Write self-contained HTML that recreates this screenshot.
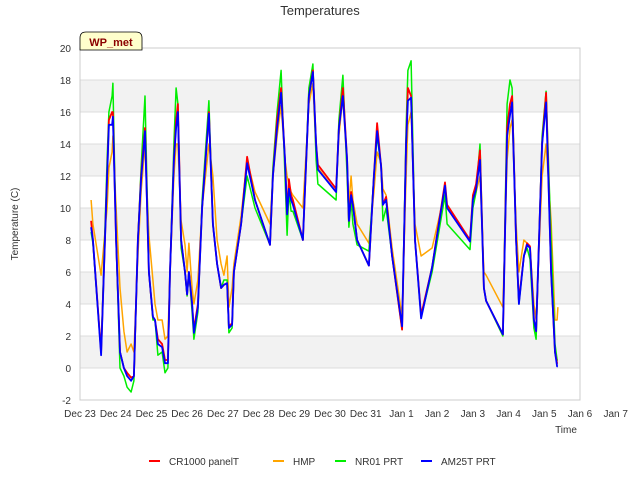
<!DOCTYPE html>
<html><head><meta charset="utf-8"><style>
body{margin:0;background:#fff;font-family:"Liberation Sans",sans-serif}
svg text{font-family:"Liberation Sans",sans-serif}
</style></head><body>
<svg id="c" width="640" height="480" xmlns="http://www.w3.org/2000/svg">
<text x="320" y="15" text-anchor="middle" font-size="13" fill="#333">Temperatures</text>
<text transform="translate(18,224) rotate(-90)" text-anchor="middle" font-size="10" fill="#333">Temperature (C)</text>
<text x="566" y="433" text-anchor="middle" font-size="10" fill="#333">Time</text>
<g id="bands"></g><g id="grid"></g><g id="ticks"></g><g id="series"></g>
<rect x="80" y="48" width="500" height="352" fill="none" stroke="#ccc"/>
<g>
<path d="M80,50 L80,38 Q80,32 86,32 L136,32 Q142,32 142,38 L142,50 Z" fill="#ffffcc" stroke="#000" stroke-width="0.8"/>
<text x="111" y="46" text-anchor="middle" font-size="11" font-weight="bold" fill="#8b0000">WP_met</text></g>
<g id="legend"></g>
</svg>
<script>
const times=[0.31,0.36,0.59,0.76,0.81,0.90,0.92,1.01,1.12,1.23,1.32,1.43,1.51,1.62,1.71,1.82,1.93,2.04,2.10,2.18,2.30,2.38,2.46,2.52,2.63,2.69,2.74,2.83,2.94,3.00,3.05,3.14,3.19,3.30,3.42,3.61,3.72,3.84,3.95,4.03,4.12,4.17,4.26,4.31,4.51,4.68,4.90,5.32,5.40,5.52,5.63,5.74,5.80,5.85,5.91,5.96,6.24,6.41,6.52,6.61,6.66,7.17,7.25,7.36,7.48,7.53,7.59,7.64,7.76,8.09,8.23,8.32,8.43,8.48,8.57,8.74,9.02,9.13,9.18,9.27,9.38,9.55,9.86,10.22,10.28,10.92,11.00,11.09,11.20,11.31,11.37,11.84,11.96,12.04,12.10,12.21,12.29,12.43,12.52,12.60,12.71,12.77,12.94,13.05,13.19,13.30,13.36,13.38];
const am25t=[8.8,8,0.8,12,15.2,15.2,15.7,8,1,0,-0.5,-0.8,-0.5,8,11.8,14.8,6,3.2,3,1.5,1.3,0.3,0.3,6,13,15,16,8,6,4.6,6,4,2.2,3.8,10,15.9,9,6.5,5,5.2,5.3,2.5,2.7,6,9,12.8,10.5,7.7,12,15,17.2,13,9.6,11.2,10.5,10.2,8,17,18.5,14,12.4,11,15,17,13,9.2,10.8,10.2,8,6.4,12,14.8,12.6,10.2,10.5,7,2.6,14,16.7,16.9,8,3.1,6.3,11.4,10,7.9,10.5,11.2,13,5,4.2,2.1,14.5,15.8,16.6,8,4,7,7.7,7.5,3,2.3,14,16.6,6,1,0.1,0.1];
const cr1000=[9.2,8,1,12,15.5,16,16,8,1,0,-0.3,-0.6,-0.5,8,12,15,6,3.2,3,1.8,1.5,0.5,0.5,6,13,15.5,16.5,8,6,4.6,6,4,2.4,4,10,16,9,6.5,5,5.2,5.3,2.6,2.8,6,9,13.2,10.5,7.7,12,15.5,17.5,13,9.7,11.8,10.8,10.5,8,17,18.6,14,12.7,11.2,15,17.5,13,9.2,11,10.2,8,6.4,12,15.3,12.6,10.2,10.7,7,2.4,14,17.5,17,8,3.3,6.3,11.6,10.2,8,10.8,11.5,13.6,5,4.2,2.1,15,16.5,17,8,4.2,7,7.8,7.6,3,2.3,14,17.2,6,1,0.3,0.3];
const nr01=[8.5,7.8,1,13,16,17,17.8,8,0,-0.5,-1.2,-1.5,-0.8,8,12.5,17,6,3,3,0.8,1,-0.3,0,6,14,17.5,16.5,7.5,6,4.5,6,3.5,1.8,3.5,10.5,16.7,9,6.5,5,5.5,5.5,2.2,2.5,6,9,12,10,7.7,12.5,16,18.6,12,8.3,11,9.8,9.8,8,17.5,19,13,11.5,10.5,15.5,18.3,12,8.8,10.5,9,7.7,7.3,12,14.5,12.6,9.2,10,7,2.4,15,18.6,19.2,8,3.2,6,10.8,9,7.4,10,11,14,5,4.2,2,16.5,18,17.5,8,4,7,7.5,6.8,2.5,1.8,14.5,17.3,8,1.5,0.5,0.5];
const hmp=[10.5,9,5.8,10,12.5,13.5,14.5,10,5,2.3,1,1.5,1,7,11,14,8.3,5.5,4,3,3,1.8,2,6,12,14,14,9.2,7.7,6,7.8,5,4,5.5,10,14,12,8,6.5,5.8,7,3.8,5,6.5,9.5,13,11,9,12,14.5,16.4,13,12,11.5,11,10.8,10,16.5,17.8,13.5,12.5,11,14.5,17,12.5,10.3,12,10.5,9,7.8,11,13.5,12.8,11.2,10.8,7.5,3.2,12,15.2,16,9,7,7.5,11,10,8,10.5,11,12,6,5.8,3.8,13,15,15.5,9,6,8,7.8,7.5,4,3,12,14,9.2,3,3,3.8];
const yTicks=[-2,0,2,4,6,8,10,12,14,16,18,20];
const xTickLabels=["Dec 23","Dec 24","Dec 25","Dec 26","Dec 27","Dec 28","Dec 29","Dec 30","Dec 31","Jan 1","Jan 2","Jan 3","Jan 4","Jan 5","Jan 6","Jan 7"];
const seriesNames=["CR1000 panelT","HMP","NR01 PRT","AM25T PRT"];
const NS="http://www.w3.org/2000/svg";
const X0=80,X1=580,Y0=400,Y1=48,DMAX=14,VMIN=-2,VMAX=20;
function xs(d){return X0+d*(X1-X0)/DMAX;}
function ys(v){return Y0-(v-VMIN)*(Y0-Y1)/(VMAX-VMIN);}
function mk(tag,attrs,parent){const e=document.createElementNS(NS,tag);for(const k in attrs)e.setAttribute(k,attrs[k]);parent.appendChild(e);return e;}
const bands=document.getElementById('bands'),grid=document.getElementById('grid'),ticks=document.getElementById('ticks');
for(let v=0;v<20;v+=4){const r=mk('rect',{x:X0,y:ys(v+2),width:X1-X0,height:ys(v)-ys(v+2),fill:'#f2f2f2'},bands);

}
yTicks.forEach(v=>{const l=mk('line',{x1:X0,x2:X1,y1:ys(v),y2:ys(v),stroke:'#dcdcdc','stroke-width':1},grid);


const t=mk('text',{x:71,y:ys(v)+4,'text-anchor':'end','font-size':10,fill:'#333'},ticks);t.textContent=v;

});
xTickLabels.forEach((s,i)=>{const t=mk('text',{x:xs(i),y:417,'text-anchor':'middle','font-size':10,fill:'#333'},ticks);t.textContent=s;

});
const sg=document.getElementById('series');
function drawLine(vals,color,name,w){const pts=times.map((t,i)=>xs(t).toFixed(1)+','+ys(vals[i]).toFixed(1)).join(' ');
const p=mk('polyline',{points:pts,fill:'none',stroke:color,'stroke-width':w,'stroke-linejoin':'round'},sg);

}
drawLine(hmp,'#ffa500','series-hmp',1.5);
drawLine(nr01,'#00ee00','series-nr01-prt',1.5);
drawLine(cr1000,'#ff0000','series-cr1000-panelt',1.8);
drawLine(am25t,'#0000ff','series-am25t-prt',1.8);
const lg=document.getElementById('legend');
const lx=[149,273,335,421],lc=['#ff0000','#ffa500','#00ee00','#0000ff'];
seriesNames.forEach((n,i)=>{const g=mk('g',{},lg);


mk('line',{x1:lx[i],x2:lx[i]+11,y1:461,y2:461,stroke:lc[i],'stroke-width':2},g);
const t=mk('text',{x:lx[i]+20,y:465,'font-size':10,fill:'#333'},g);t.textContent=n;});
</script>
</body></html>
